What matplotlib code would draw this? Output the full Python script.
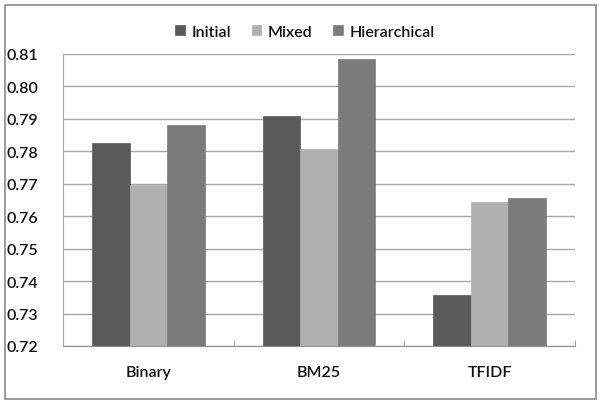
import matplotlib
matplotlib.use("Agg")
import matplotlib.pyplot as plt
import numpy as np
from matplotlib.patches import Rectangle

categories = ["Binary", "BM25", "TFIDF"]
series = ["Initial", "Mixed", "Hierarchical"]
initial = [0.7827, 0.7908, 0.7356]
mixed = [0.7696, 0.7806, 0.7643]
hierarchical = [0.7882, 0.8086, 0.7656]
yticks = [0.72, 0.73, 0.74, 0.75, 0.76, 0.77, 0.78, 0.79, 0.80, 0.81]

colors = ["#5a5a5a", "#b0b0b1", "#7b7b7b"]
plt.rcParams['font.family'] = ['Lato', 'DejaVu Sans']
plt.rcParams['font.weight'] = 'semibold'
FS = 11.5

fig = plt.figure(figsize=(6.0, 4.06), dpi=100)
ax = fig.add_axes([63/600, 1-347/406, 512/600, 292/406])

x = np.arange(len(categories))
w = 0.22
for i, (vals, name) in enumerate(zip([initial, mixed, hierarchical], series)):
    ax.bar(x + (i - 1) * w, vals, width=w, color=colors[i], label=name, zorder=3,
           edgecolor=colors[i], linewidth=0.5)

ax.set_xlim(-0.5, 2.5)
ax.set_ylim(0.72, 0.81)
ax.set_yticks(yticks)
ax.set_yticklabels([f"{v:.2f}" for v in yticks], fontsize=FS, color='#111111')
ax.set_xticks(x)
ax.set_xticklabels(categories, fontsize=FS, color='#111111')
ax.tick_params(axis='x', length=0, pad=14)
ax.tick_params(axis='y', length=0, pad=18)
ax.set_xticks([0.5, 1.5, 2.5], minor=True)
ax.tick_params(axis='x', which='minor', length=4, direction='in', color='#909090')
ax.grid(axis='y', color='#a8a8a8', linewidth=1.0, zorder=0)
for s in ['top', 'right']:
    ax.spines[s].set_visible(False)
ax.spines['left'].set_color('#a8a8a8')
ax.spines['bottom'].set_color('#909090')

leg = fig.legend(loc='center', bbox_to_anchor=(305/600, 1-33/406), ncol=3, frameon=False,
                 fontsize=FS, handlelength=0.6, handleheight=0.6, handletextpad=0.4,
                 columnspacing=1.3)
for t in leg.get_texts():
    t.set_color('#111111')

fig.patches.append(Rectangle((5/600, 1-400/406), 591/600, 394/406, transform=fig.transFigure,
                             fill=False, edgecolor='#8a8a8a', linewidth=1.2))
fig.savefig("out.png", dpi=100)
